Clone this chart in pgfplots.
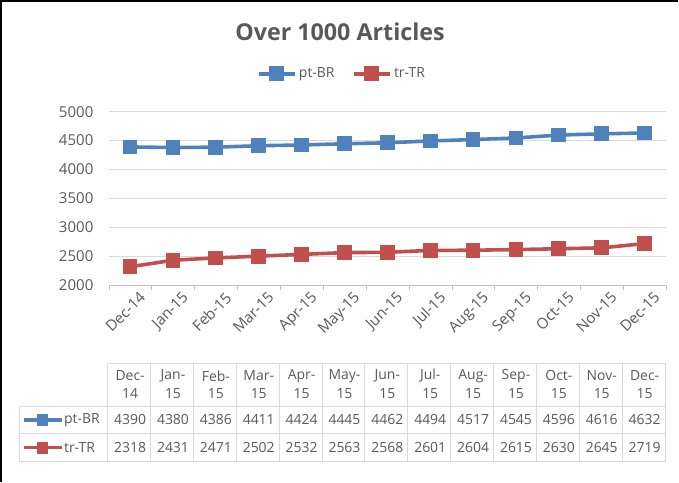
\documentclass[border=0pt]{standalone}
\usepackage{pgfplots}
\pgfplotsset{compat=1.18}
\usepackage{pgfplotstable}
\usepackage{fontspec}
\setmainfont{Open Sans}
\definecolor{ptblue}{HTML}{4F81BD}
\definecolor{trred}{HTML}{C0504D}
\definecolor{txt}{HTML}{595959}
\definecolor{gridc}{HTML}{D9D9D9}
\definecolor{axc}{HTML}{BFBFBF}

\pgfplotstableread{
idx pt tr
0 4390 2318
1 4380 2431
2 4386 2471
3 4411 2502
4 4424 2532
5 4445 2563
6 4462 2568
7 4494 2601
8 4517 2604
9 4545 2615
10 4596 2630
11 4616 2645
12 4632 2719
}\datatable

\newcommand{\tf}{\fontsize{10.5}{12.5}\selectfont}
\newcommand{\tkf}{\fontsize{11.3}{13}\selectfont}
\def\months{{"Dec","Jan","Feb","Mar","Apr","May","Jun","Jul","Aug","Sep","Oct","Nov","Dec"}}

\begin{document}
\begin{tikzpicture}
\begin{axis}[
  name=ax, at={(81pt,-83.25pt)}, anchor=north west,
  scale only axis, width=419.25pt, height=130.5pt,
  xmin=-0.5, xmax=12.5, ymin=2000, ymax=5000,
  ytick={2000,2500,...,5000},
  xtick={0,...,12},
  xticklabels={Dec-14,Jan-15,Feb-15,Mar-15,Apr-15,May-15,Jun-15,Jul-15,Aug-15,Sep-15,Oct-15,Nov-15,Dec-15},
  minor xtick={-0.5,0.5,...,12.5},
  xtick pos=bottom, ytick pos=left,
  major tick length=0pt, minor tick length=4pt, tick align=outside,
  minor x tick style={axc},
  axis line style={draw=none},
  ymajorgrids, grid style={gridc, line width=0.75pt},
  tick label style={txt, font=\tkf},
  /pgf/number format/assume math mode=true,
  /pgf/number format/1000 sep={},
  yticklabel style={xshift=-8pt},
  xticklabel style={rotate=45, anchor=north east, yshift=-4pt, xshift=5pt},
  clip=false,
  legend style={at={(0.419,1.218)}, anchor=center, draw=none, fill=none,
    legend columns=2, font=\tf, text=txt,
    /tikz/every even column/.append style={column sep=11pt}},
  legend image code/.code={\draw[mark repeat=2,mark phase=2,#1] plot coordinates {(0pt,0pt)(13.5pt,0pt)(27pt,0pt)};},
]
\draw[axc, line width=0.75pt] (axis cs:-0.5,2000) -- (axis cs:12.5,2000);
\addplot[ptblue, line width=2.7pt, mark=square*, mark size=4.2pt, mark options={solid}] table[x=idx,y=pt] {\datatable};
\addlegendentry{pt-BR}
\addplot[trred, line width=2.7pt, mark=square*, mark size=4.2pt, mark options={solid}] table[x=idx,y=tr] {\datatable};
\addlegendentry{tr-TR}
\end{axis}
\begin{scope}[x=0.75pt,y=-0.75pt]
% page extent
\path (0,0) rectangle (679,482);
\draw[black,line width=1.5pt] (0,482) -- (0,0) -- (679,0);
% title
\node[txt,font=\fontsize{17.5}{20}\selectfont\bfseries] at (340,31) {Over 1000 Articles};
% data table
\begin{scope}[gridc, line width=0.75pt]
\draw (107,364) -- (667,364);
\draw (19,407) -- (667,407);
\draw (19,434) -- (667,434);
\draw (19,462) -- (667,462);
\draw (19,407) -- (19,462);
\foreach \k in {0,...,13} { \draw ({107+43*\k},364) -- ({107+43*\k},462); }
\end{scope}
\foreach \k in {0,...,12} {
  \pgfmathsetmacro{\cx}{129.5+43*\k}
  \pgfmathparse{\months[\k]}\let\mon\pgfmathresult
  \ifnum\k=0 \def\yr{14}\else\def\yr{15}\fi
  \node[txt,font=\tf,inner sep=0pt] at (\cx,376) {\mon-};
  \node[txt,font=\tf,inner sep=0pt] at (\cx,394) {\yr};
  \pgfplotstablegetelem{\k}{pt}\of\datatable
  \node[txt,font=\tf,inner sep=0pt] at (\cx,420) {\pgfplotsretval};
  \pgfplotstablegetelem{\k}{tr}\of\datatable
  \node[txt,font=\tf,inner sep=0pt] at (\cx,448) {\pgfplotsretval};
}
% legend keys in table
\draw[ptblue, line width=2.7pt] (23,420) -- (61,420);
\fill[ptblue] (36,414) rectangle (47,426);
\node[txt,font=\tf,anchor=west,inner sep=0pt] at (63,420) {pt-BR};
\draw[trred, line width=2.7pt] (23,448) -- (61,448);
\fill[trred] (36,442) rectangle (47,454);
\node[txt,font=\tf,anchor=west,inner sep=0pt] at (63,448) {tr-TR};
\end{scope}
\end{tikzpicture}
\end{document}
